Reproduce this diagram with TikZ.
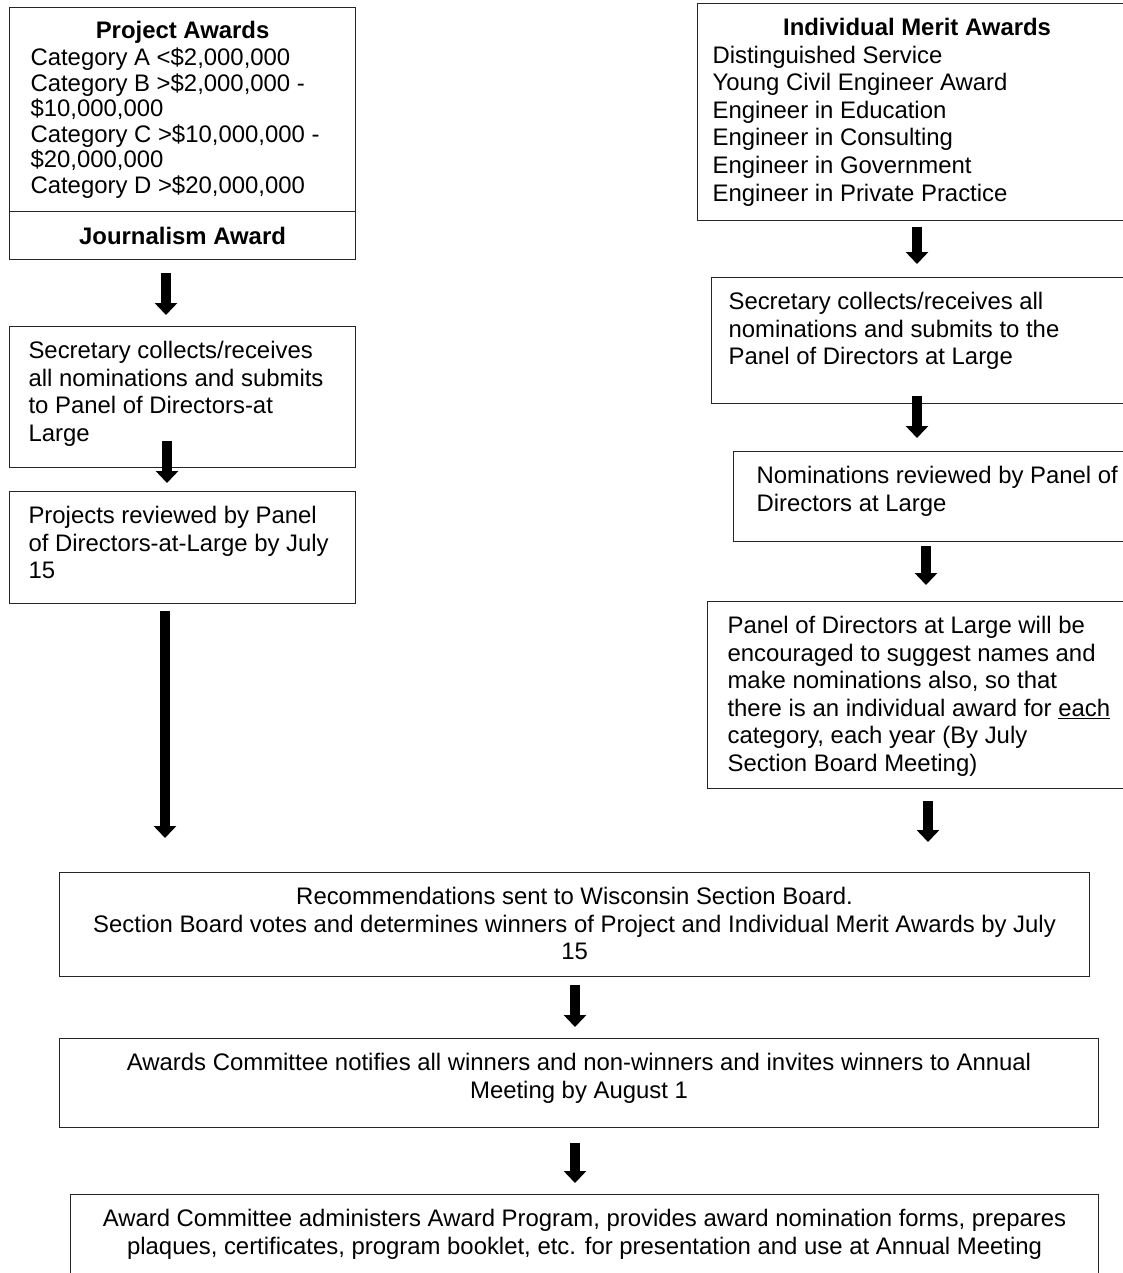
\documentclass[tikz,border=0pt]{standalone}
\usepackage{fontspec}
\setmainfont{Liberation Sans}
\usetikzlibrary{arrows.meta}
% #1 width, #2 height, #3 left pad, #4 right pad, #5 top pad, #6 content
\newcommand{\tbox}[6]{\parbox[c][#2pt][t]{#1pt}{\vspace*{#5pt}\hspace*{#3pt}\parbox[t]{\dimexpr#1pt-#3pt-#4pt\relax}{#6}}}
\tikzset{
  box/.style={draw=black!85, line width=1.1pt, inner sep=0pt, anchor=north west,
    font=\fontsize{23.9pt}{27.6pt}\selectfont},
  blockarrow/.style={line width=10pt, draw=black, -{Triangle[width=22pt,length=12pt]}}
}
\begin{document}
\begin{tikzpicture}[x=1pt,y=-1pt]
\useasboundingbox (0,0) rectangle (1123,1273);
\clip (0,0) rectangle (1123,1273);
\fill[white] (0,0) rectangle (1123,1273);

% left column
\node[box] (pa) at (9,7) {\tbox{346}{204}{21}{21}{12.8}{\fontsize{23.9pt}{25.6pt}\selectfont
  {\centering\strut\textbf{Project Awards}\par}\vspace{1.7pt}\raggedright
  Category A <\$2,000,000\\
  Category B >\$2,000,000 -\\
  \$10,000,000\\
  Category C >\$10,000,000 -\\
  \$20,000,000\\
  Category D >\$20,000,000}};
\node[box, minimum width=346pt, minimum height=48pt, font=\fontsize{23.9pt}{27.6pt}\selectfont\bfseries] (jour) at (9,211) {Journalism Award};
\node[box] (secl) at (9,326) {\tbox{346}{141}{19}{5}{12.7}{\raggedright\strut
  Secretary collects/receives\\
  all nominations and submits\\
  to Panel of Directors-at\\
  Large}};
\node[box] (projl) at (9,491) {\tbox{346}{112}{19}{5}{12.7}{\raggedright\strut
  Projects reviewed by Panel\\
  of Directors-at-Large by July\\
  15}};

% right column
\node[box] (ima) at (697,3) {\tbox{439}{217}{15}{15}{12.7}{%
  {\centering\strut\textbf{Individual Merit Awards}\par}\raggedright
  Distinguished Service\\
  Young Civil Engineer Award\\
  Engineer in Education\\
  Engineer in Consulting\\
  Engineer in Government\\
  Engineer in Private Practice}};
\node[box] (secr) at (711,277) {\tbox{425}{126}{17}{5}{12.7}{\raggedright\strut
  Secretary collects/receives all\\
  nominations and submits to the\\
  Panel of Directors at Large}};
\node[box] (nom) at (733,451) {\tbox{403}{90}{23}{5}{12.7}{\raggedright\strut
  Nominations reviewed by Panel of\\
  Directors at Large}};
\node[box] (panel) at (707,601) {\tbox{429}{187}{20}{5}{12.7}{\raggedright\strut
  Panel of Directors at Large will be\\
  encouraged to suggest names and\\
  make nominations also, so that\\
  there is an individual award for \underline{each}\\
  category, each year (By July\\
  Section Board Meeting)}};

% bottom
\node[box] (rec) at (59,872) {\tbox{1030}{104}{5}{5}{12.7}{\centering\strut
  Recommendations sent to Wisconsin Section Board.\\
  Section Board votes and determines winners of Project and Individual Merit Awards by July\\
  15}};
\node[box] (ac) at (59,1038) {\tbox{1039}{89}{5}{5}{12.7}{\centering\strut
  Awards Committee notifies all winners and non-winners and invites winners to Annual\\
  Meeting by August 1}};
\node[box] (adm) at (70,1194) {\tbox{1028}{120}{5}{5}{12.7}{\centering\strut
  Award Committee administers Award Program, provides award nomination forms, prepares\\
  plaques, certificates, program booklet, etc. for presentation and use at Annual Meeting}};

% arrow end points
\coordinate (a1s) at (166,273); \coordinate (a1e) at (166,315);
\coordinate (a2s) at (167,441); \coordinate (a2e) at (167,483);
\coordinate (a3s) at (165,611); \coordinate (a3e) at (165,838);
\coordinate (b1s) at (917,227); \coordinate (b1e) at (917,264);
\coordinate (b2s) at (917,396); \coordinate (b2e) at (917,438);
\coordinate (b3s) at (926,546); \coordinate (b3e) at (926,585);
\coordinate (b4s) at (928,801); \coordinate (b4e) at (928,842);
\coordinate (c1s) at (575,985); \coordinate (c1e) at (575,1027);
\coordinate (c2s) at (575,1143); \coordinate (c2e) at (575,1183);

\draw[blockarrow] (a1s) -- (a1e);
\draw[blockarrow] (a2s) -- (a2e);
\draw[blockarrow] (a3s) -- (a3e);
\draw[blockarrow] (b1s) -- (b1e);
\draw[blockarrow] (b2s) -- (b2e);
\draw[blockarrow] (b3s) -- (b3e);
\draw[blockarrow] (b4s) -- (b4e);
\draw[blockarrow] (c1s) -- (c1e);
\draw[blockarrow] (c2s) -- (c2e);
\end{tikzpicture}
\end{document}
